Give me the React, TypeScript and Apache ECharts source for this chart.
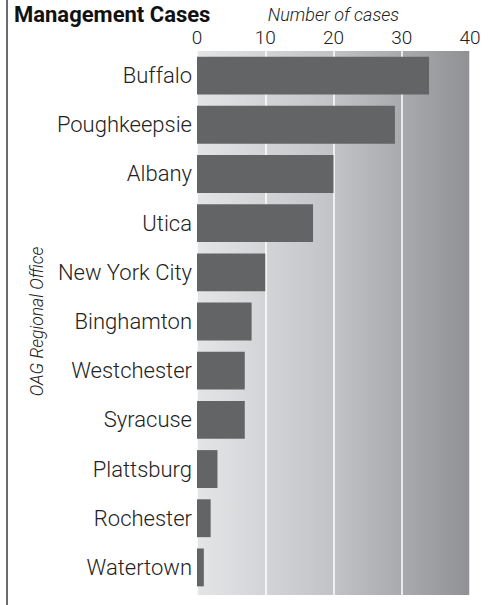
import React, { useEffect, useRef } from "react";
import * as echarts from "echarts";

const categories = [
  "Buffalo",
  "Poughkeepsie",
  "Albany",
  "Utica",
  "New York City",
  "Binghamton",
  "Westchester",
  "Syracuse",
  "Plattsburg",
  "Rochester",
  "Watertown",
];
const cases = [34, 29, 20, 17, 10, 8, 7, 7, 3, 2, 1];
const xTicks = [0, 10, 20, 30, 40];
const titleText = "Management Cases";
const xName = "Number of cases";
const yName = "OAG Regional Office";

const FONT = "'Roboto', 'Liberation Sans', sans-serif";

export default function App() {
  const ref = useRef<HTMLDivElement>(null);
  useEffect(() => {
    if (!ref.current) return;
    const chart = echarts.init(ref.current, undefined, { renderer: "svg" });
    const xMin = xTicks[0];
    const xMax = xTicks[xTicks.length - 1];
    const xStep = xTicks[1] - xTicks[0];
    chart.setOption({
      animation: false,
      backgroundColor: "#ffffff",
      title: {
        text: titleText,
        left: 14,
        top: 2,
        padding: 0,
        textStyle: { fontFamily: FONT, fontSize: 22, fontWeight: "bold", color: "#111", lineHeight: 24 },
      },
      graphic: [
        {
          type: "line",
          shape: { x1: 7, y1: 0, x2: 7, y2: 605 },
          style: { stroke: "#6b6c6e", lineWidth: 2 },
        },
      ],
      grid: [
        {
          left: 197,
          right: 20,
          top: 50,
          bottom: 10,
          show: true,
          borderWidth: 0,
          backgroundColor: new echarts.graphic.LinearGradient(0, 0, 1, 0, [
            { offset: 0, color: "#e4e5e7" },
            { offset: 0.5, color: "#c2c3c6" },
            { offset: 1, color: "#909195" },
          ]),
        },
        { left: 197, right: 20, top: 51, bottom: 13 },
      ],
      xAxis: [
        {
          gridIndex: 0,
          type: "value",
          position: "top",
          min: xMin,
          max: xMax,
          interval: xStep,
          name: xName,
          nameLocation: "middle",
          nameGap: 27,
          nameTextStyle: { fontFamily: FONT, fontSize: 18, fontStyle: "italic", fontWeight: 300, color: "#222" },
          axisLine: { show: false },
          axisTick: { show: false },
          axisLabel: { fontFamily: FONT, fontSize: 19, fontWeight: 300, color: "#222", margin: 4 },
          splitLine: { show: true, lineStyle: { color: "#ffffff", width: 1.5 } },
        },
        {
          gridIndex: 1,
          type: "value",
          min: xMin,
          max: xMax,
          interval: xStep,
          show: false,
          splitLine: { show: false },
        },
      ],
      yAxis: [
        {
          gridIndex: 0,
          type: "category",
          data: categories,
          show: false,
        },
        {
          gridIndex: 1,
          type: "category",
          inverse: true,
          data: categories,
          name: yName,
          nameLocation: "middle",
          nameRotate: 90,
          nameGap: 150,
          nameTextStyle: { fontFamily: FONT, fontSize: 17.5, fontStyle: "italic", fontWeight: 300, color: "#222" },
          axisLine: { show: false },
          axisTick: { show: false },
          axisLabel: {
            fontFamily: FONT,
            fontSize: 22,
            fontWeight: 300,
            color: "#222",
            margin: 5,
            padding: [0, 0, 4, 0],
          },
        },
      ],
      series: [
        {
          type: "bar",
          xAxisIndex: 1,
          yAxisIndex: 1,
          data: cases,
          barCategoryGap: "23%",
          itemStyle: { color: "#636466" },
        },
      ],
    });
    return () => chart.dispose();
  }, []);
  return (
    <div
      ref={ref}
      style={{ position: "absolute", left: 0, top: 0, width: 490, height: 605 }}
    />
  );
}
